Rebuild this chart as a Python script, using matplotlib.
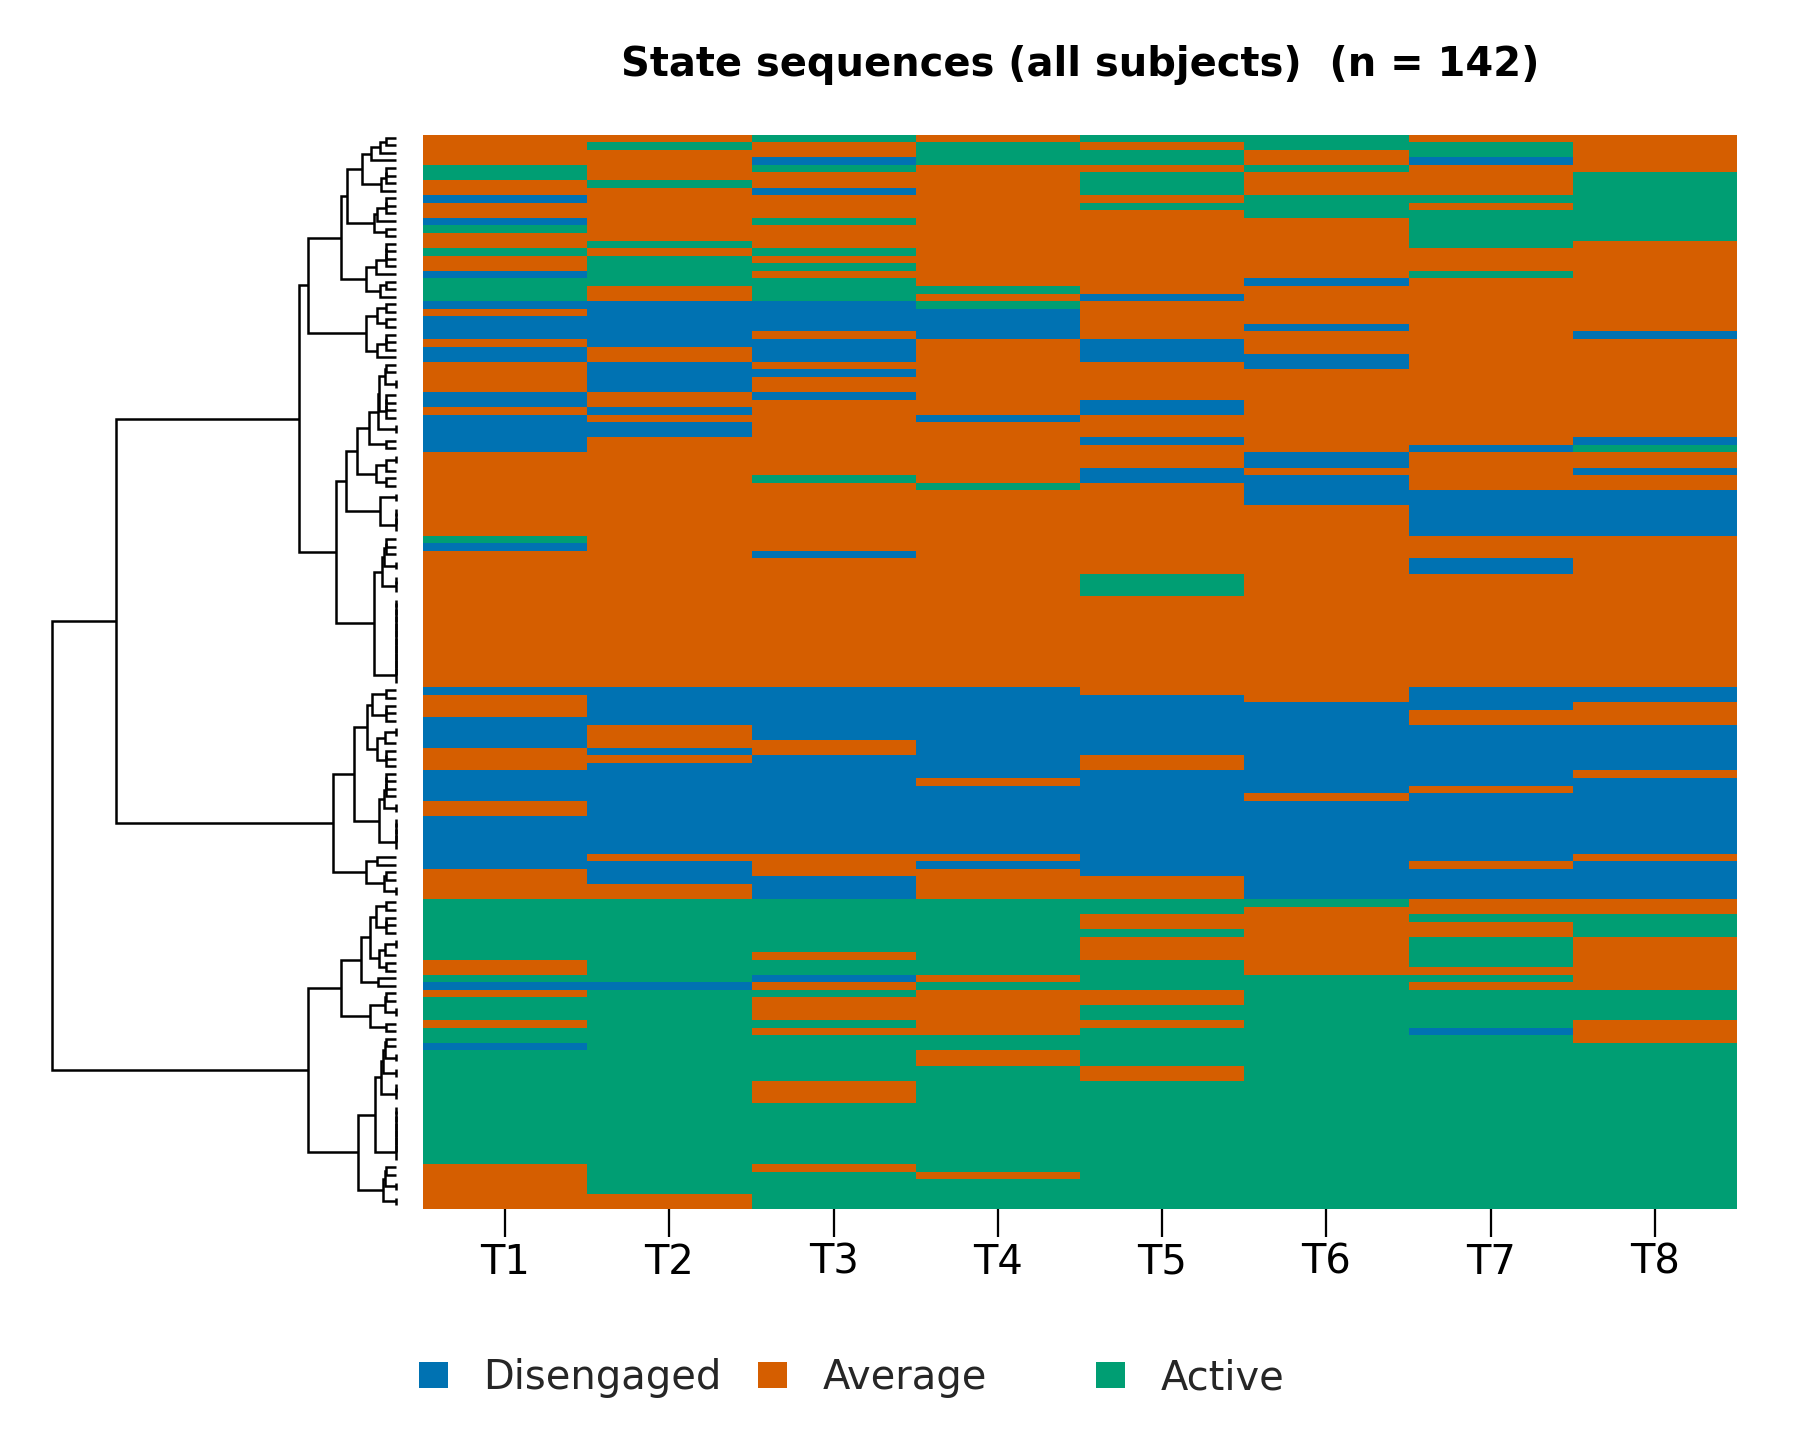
import re
import numpy as np
import matplotlib
matplotlib.use("Agg")
import matplotlib.pyplot as plt
from matplotlib.colors import ListedColormap
from matplotlib.patches import Patch

title = "State sequences (all subjects)  (n = 142)"
states = ["Disengaged", "Average", "Active"]
state_colors = ["#0072B2", "#D55E00", "#009E73"]
time_labels = ["T1", "T2", "T3", "T4", "T5", "T6", "T7", "T8"]

# State per subject, read top to bottom as run lengths (D, M, A = the three states)
T1 = "4M 2A 2M 1D 2M 1D 1A 2M 1A 2M 1D 3A 1D 1M 3D 1M 2D 4M 2D 1M 5D 11M 1A 1D 18M 1D 3M 4D 3M 4D 2M 7D 4M 8A 2M 1A 1D 1M 3A 1M 2A 1D 15A 6M"
T2 = "1M 1A 4M 1A 7M 1A 1M 4A 2M 6D 2M 4D 2M 1D 1M 2D 33M 5D 3M 1D 1M 12D 1M 3D 2M 11A 1D 27A 2M"
T3 = "1A 2M 1D 1A 2M 1D 3M 1A 3M 1A 1M 1A 1M 3A 4D 1M 3D 1M 1D 2M 1D 10M 1A 9M 1D 17M 7D 2M 13D 3M 3D 7A 1M 2A 1D 1M 1A 3M 1A 1M 6A 3M 8A 1M 5A"
T4 = "1M 3A 16M 1A 1M 1A 4D 10M 1D 8M 1A 26M 12D 1M 9D 1M 1D 4M 10A 1M 1A 6M 2A 2M 14A 1M 4A"
T5 = "1A 1M 2A 1M 3A 1M 1A 11M 1D 5M 3D 5M 2D 3M 1D 3M 2D 12M 3A 13M 8D 2M 14D 3M 2A 2M 1A 3M 4A 2M 2A 1M 5A 2M 17A"
T6 = "2A 2M 1A 3M 3A 8M 1D 5M 1D 3M 2D 11M 2D 1M 4D 26M 12D 1M 13D 1A 9M 31A"
T7 = "1M 2A 1D 4M 1A 1M 5A 3M 1A 22M 1D 5M 6D 3M 2D 15M 3D 2M 8D 1M 9D 1M 4D 2M 1A 2M 4A 1M 1A 1M 5A 1D 23A"
T8 = "5M 9A 12M 1D 13M 1D 1A 2M 1D 2M 6D 20M 2D 3M 6D 1M 10D 1M 5D 2M 3A 7M 4A 3M 22A"
columns = [T1, T2, T3, T4, T5, T6, T7, T8]
code = {"D": 0, "M": 1, "A": 2}


def decode(runs):
    out = []
    for n, s in re.findall(r"(\d+)([DMA])", runs):
        out += [code[s]] * int(n)
    return out


matrix = np.array([decode(c) for c in columns]).T

# Dendrogram: merge heights and the shape of the tree
L = None


def N(h, a, b):
    return (h, a, b)


def same(n):
    node = N(0, L, L)
    for _ in range(n - 2):
        node = N(0, node, L)
    return node


P = N(9.7, L, L)
c0_3 = N(25, N(15.7, P, L), L)
c4_7 = N(15, N(10.3, P, L), L)
c8_13 = N(22.3, N(18.7, N(10, P, L), L), P)
c0_13 = N(49.3, N(34, c0_3, c4_7), c8_13)
c14_18 = N(19.7, N(10.3, N(10, P, L), L), L)
c19_21 = N(16, P, L)
c0_21 = N(55.3, c0_13, N(30.3, c14_18, c19_21))
c22_25 = N(18.7, P, P)
c26_29 = N(18.7, N(10, P, L), L)
c0_29 = N(88.3, c0_21, N(29.7, c22_25, c26_29))

c30_33 = N(11.3, P, same(2))
c34_37 = N(10.3, N(10, P, L), L)
c30_39 = N(17.7, N(16.7, c30_33, c34_37), same(2))
c30_41 = N(27.3, c30_39, P)
c42_46 = N(20.3, N(10.3, same(2), L), P)
c30_46 = N(38.7, c30_41, c42_46)
c47_52 = N(15.7, same(2), same(4))
c30_52 = N(50.3, c30_46, c47_52)
c53_57 = N(12.3, N(10, P, L), same(2))
c53_60 = N(14.3, c53_57, same(3))
c53_72 = N(22.3, c53_60, same(12))
c0_72 = N(96.7, c0_29, N(60, c30_52, c53_72))

c73_77 = N(24, P, N(10, P, L))
c78_83 = N(19, N(10.7, same(2), L), N(10, P, L))
c84_89 = N(12.3, N(10.3, N(10, P, L), L), same(2))
c73_94 = N(42.3, N(29, c73_77, c78_83), N(17, c84_89, same(5)))
c95_100 = N(29.7, N(19, L, L), N(11.7, P, same(2)))
c73_100 = N(62.7, c73_94, c95_100)

c101_110 = N(25.7, N(19.7, P, N(10, P, L)), N(17.3, N(10.7, same(2), L), P))
c101_112 = N(35.3, c101_110, N(18.3, L, L))
c113_118 = N(25.7, N(11, P, same(2)), P)
c101_118 = N(55.3, c101_112, c113_118)
c119_127 = N(15, N(13, N(11.3, P, same(2)), same(2)), same(3))
c136_141 = N(12.7, N(11.3, P, same(2)), same(2))
c119_141 = N(38.3, N(20.7, c119_127, same(8)), c136_141)
root = N(344, N(280, c0_72, c73_100), N(88, c101_118, c119_141))

W, H = 1800, 1440
fig = plt.figure(figsize=(W / 180, H / 180), dpi=180, facecolor="white")
plt.rcParams["font.family"] = ["DejaVu Sans"]


def box(x0, y0, x1, y1):
    return [x0 / W, 1 - y1 / H, (x1 - x0) / W, (y1 - y0) / H]


ax = fig.add_axes(box(423, 134.6, 1737, 1209.4))
n_rows, n_cols = matrix.shape
ax.pcolormesh(np.arange(n_cols + 1), np.arange(n_rows + 1), matrix,
              cmap=ListedColormap(state_colors), vmin=0, vmax=2,
              shading="flat", antialiased=False, linewidth=0)
ax.set_xlim(0, n_cols)
ax.set_ylim(n_rows, 0)
ax.set_xticks(np.arange(n_cols) + 0.5)
ax.set_xticklabels(time_labels, fontsize=16, color="black")
ax.set_yticks([])
ax.tick_params(axis="x", length=11, width=0.9, pad=2.3, color="black")
for s in ax.spines.values():
    s.set_visible(False)

dax = fig.add_axes(box(40, 134, 396, 1209))
dax.set_xlim(356, 0)
dax.set_ylim(n_rows, 0)
dax.axis("off")

counter = [0]


def draw(node):
    if node is None:
        y = counter[0] + 0.5
        counter[0] += 1
        return 0.0, y
    h, a, b = node
    ha, ya = draw(a)
    hb, yb = draw(b)
    dax.plot([ha, h, h, hb], [ya, ya, yb, yb], color="black", lw=1.0,
             solid_joinstyle="miter", solid_capstyle="butt", clip_on=False)
    return h, (ya + yb) / 2


draw(root)

fig.text(1080 / W, 1 - 65 / H, title, ha="center", va="center",
         fontsize=16, fontweight="bold", color="black")

legend_x = [419, 758, 1096]
for lab, col, x in zip(states, state_colors, legend_x):
    leg = fig.legend(handles=[Patch(facecolor=col, edgecolor="none", label=lab)],
                     loc="center left", bbox_to_anchor=(x / W, 1 - 1378 / H),
                     frameon=False, fontsize=16, handlelength=0.725, handleheight=0.6,
                     handletextpad=0.88, borderpad=0, borderaxespad=0)
    for t in leg.get_texts():
        t.set_color("#262626")

fig.savefig("out.png", dpi=180, facecolor="white")
